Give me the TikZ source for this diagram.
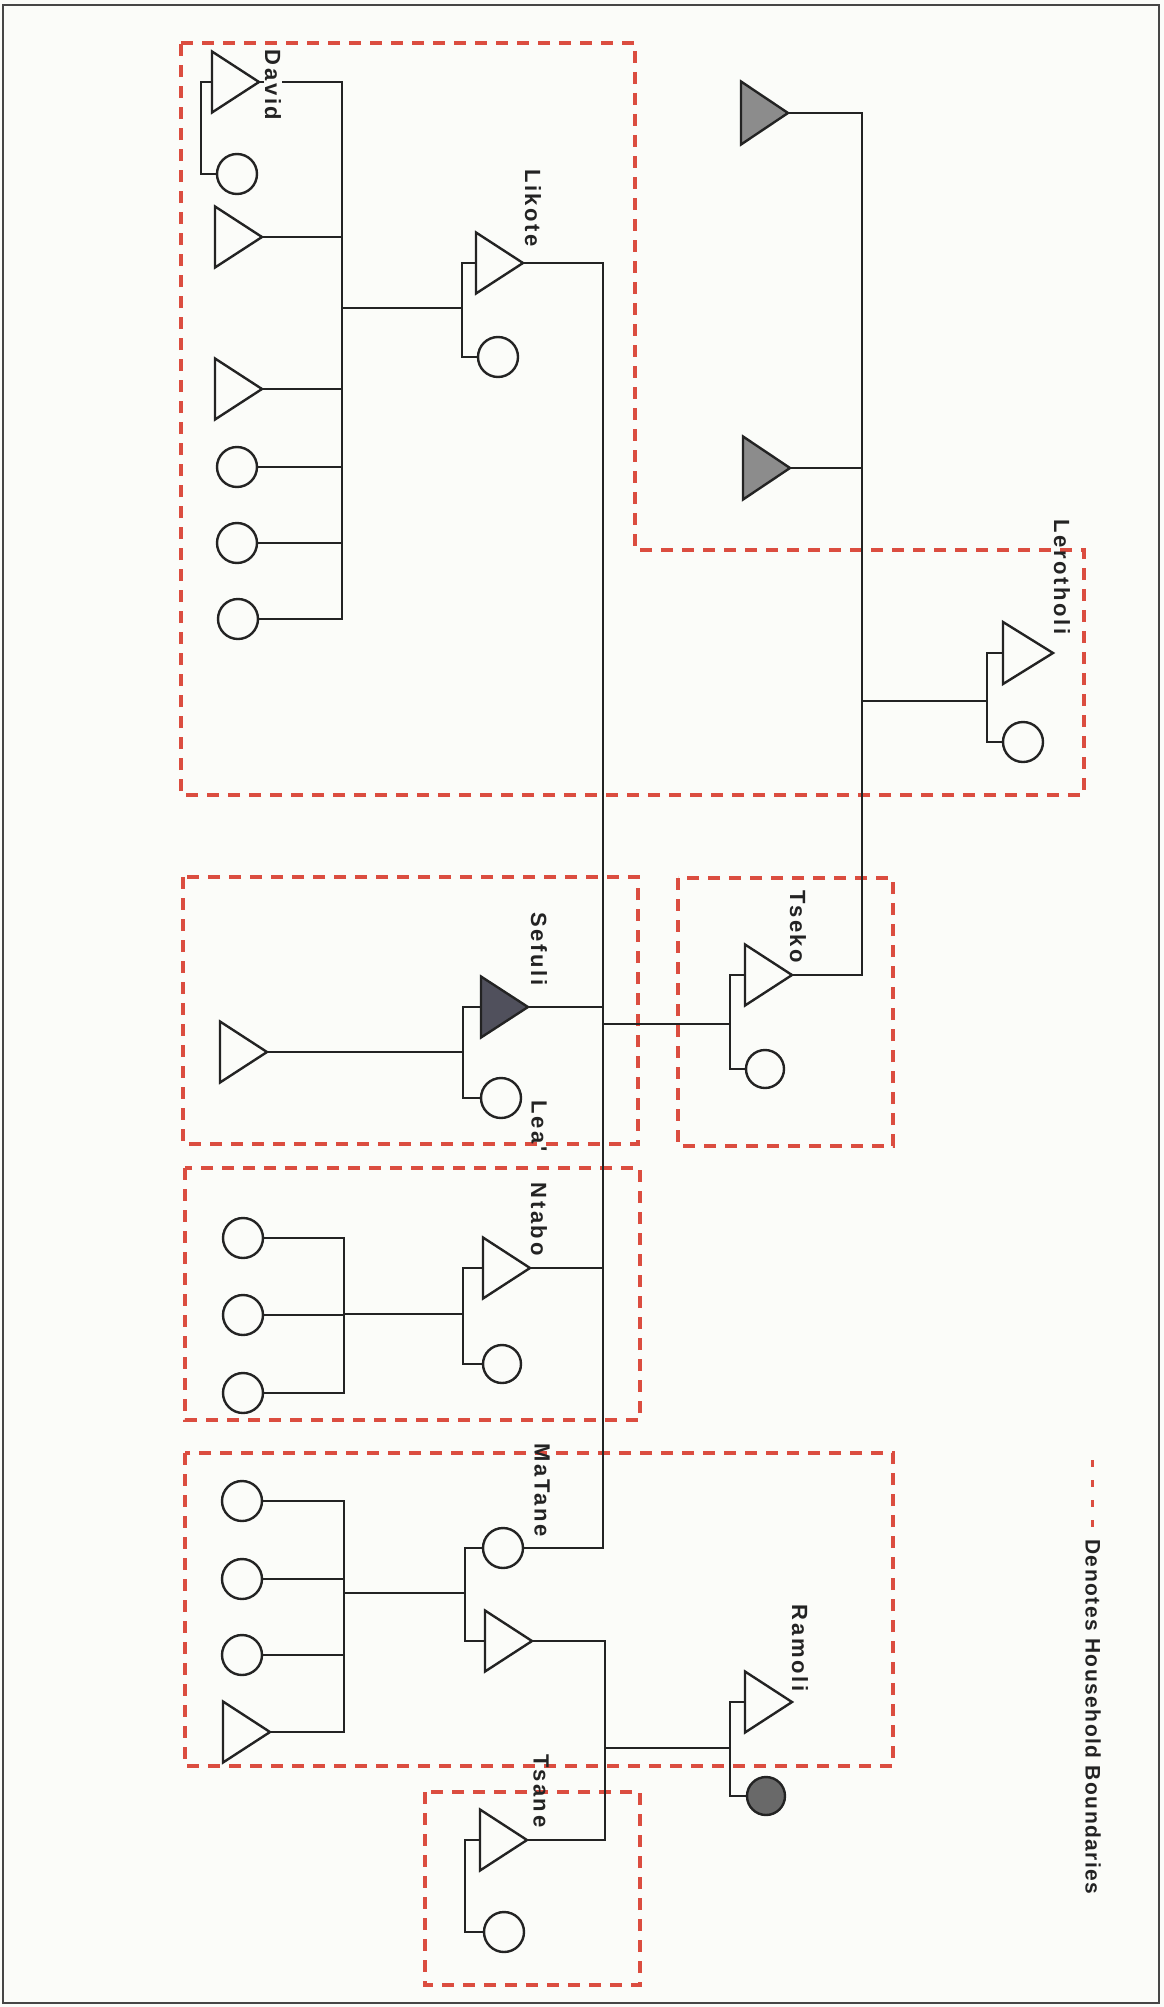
\documentclass[tikz,border=0pt]{standalone}
\usepackage{fontspec}
\usetikzlibrary{shapes.geometric}
\newfontfamily\lblfont[LetterSpace=12]{Liberation Sans}
\newfontfamily\legfont[LetterSpace=7]{Liberation Sans}
\definecolor{boxred}{RGB}{219,77,64}
\definecolor{linec}{RGB}{35,35,35}
\definecolor{framec}{RGB}{70,70,70}
\definecolor{txtc}{RGB}{35,35,35}
\definecolor{bgc}{RGB}{251,252,249}
\definecolor{shadeA}{RGB}{140,140,140}
\definecolor{shadeB}{RGB}{80,80,92}
\definecolor{shadeC}{RGB}{105,105,105}
\begin{document}
\begin{tikzpicture}[x=1pt,y=-1pt,
  kin/.style={line width=2.4pt, draw=linec},
  male/.style={isosceles triangle, isosceles triangle stretches, shape border rotate=0,
    minimum width=61, minimum height=47, inner sep=0pt, outer sep=0pt, draw=linec, line width=2.4pt},
  female/.style={circle, minimum size=40, inner sep=0pt, outer sep=0pt, draw=linec, line width=2.4pt},
  hbox/.style={draw=boxred, line width=3.2pt, dash pattern=on 12pt off 9pt},
  lbl/.style={rotate=-90, font=\lblfont\bfseries\fontsize{22}{22}\selectfont, text=txtc, inner sep=1pt}
]
\fill[bgc] (0,0) rectangle (1164,2007);
\useasboundingbox (0,0) rectangle (1164,2007);
\draw[framec, line width=2.4pt] (3,5) rectangle (1159,2003);

% household boundaries
\draw[hbox] (181,43) -- (635,43) -- (635,550) -- (1084,550) -- (1084,795) -- (181,795) -- cycle;
\draw[hbox] (183,877) rectangle (638,1144);
\draw[hbox] (678,878) rectangle (893,1146);
\draw[hbox] (185,1168) rectangle (640,1420);
\draw[hbox] (185,1453) rectangle (893,1766);
\draw[hbox] (425,1792) rectangle (640,1985);

% people
\node[male, anchor=apex] (dav) at (259,82) {};
\node[female] (dw) at (237,174) {};
\node[male, anchor=apex] (d2) at (262,237) {};
\node[male, anchor=apex] (d3) at (262,389) {};
\node[female] (lc1) at (237,467) {};
\node[female] (lc2) at (237,543) {};
\node[female] (lc3) at (238,619) {};
\node[male, anchor=apex] (lik) at (523,263) {};
\node[female] (lw) at (498,357) {};

\node[male, anchor=apex, fill=shadeA, minimum width=63] (s1) at (788,113) {};
\node[male, anchor=apex, fill=shadeA, minimum width=63] (s2) at (790,468) {};
\node[male, anchor=apex, minimum height=50, minimum width=62] (ler) at (1053,653) {};
\node[female] (lrw) at (1023,742) {};

\node[male, anchor=apex] (tse) at (792,975) {};
\node[female, minimum size=38] (tw) at (765,1069) {};

\node[male, anchor=apex, fill=shadeB] (sef) at (528,1007) {};
\node[female] (lea) at (501,1098) {};
\node[male, anchor=apex] (sc) at (267,1052) {};

\node[male, anchor=apex] (nta) at (530,1268) {};
\node[female, minimum size=38] (nw) at (502,1364) {};
\node[female] (nc1) at (243,1238) {};
\node[female] (nc2) at (243,1315) {};
\node[female] (nc3) at (243,1393) {};

\node[female] (mat) at (503,1548) {};
\node[male, anchor=apex] (mh) at (532,1641) {};
\node[female] (mc1) at (242,1501) {};
\node[female] (mc2) at (242,1579) {};
\node[female] (mc3) at (242,1655) {};
\node[male, anchor=apex] (mc4) at (270,1732) {};

\node[male, anchor=apex] (ram) at (792,1702) {};
\node[female, fill=shadeC, minimum size=38] (rw) at (766,1796) {};

\node[male, anchor=apex] (tsa) at (527,1840) {};
\node[female] (taw) at (504,1932) {};

% junction coordinates
\coordinate (davM) at (201,128);
\coordinate (likM) at (462,308);
\coordinate (likBar) at (342,308);
\coordinate (tsBar) at (603,1024);
\coordinate (tseM) at (730,1024);
\coordinate (lerM) at (987,701);
\coordinate (lerBar) at (862,701);
\coordinate (sefM) at (463,1052);
\coordinate (ntM) at (463,1314);
\coordinate (ntBar) at (344,1314);
\coordinate (matM) at (465,1593);
\coordinate (matBar) at (344,1593);
\coordinate (ramM) at (730,1748);
\coordinate (mhBar) at (605,1748);
\coordinate (tsaM) at (465,1886);

% connectors
\draw[kin] (dav.lower side) -| (davM) |- (dw.west);

\draw[kin] (lik.lower side) -| (likM) |- (lw.west);
\draw[kin] (likM) -- (likBar);
\draw[kin] (dav.apex) -| (likBar);
\draw[kin] (lc3.east) -| (likBar);
\draw[kin] (d2.apex) -- (d2.apex -| likBar);
\draw[kin] (d3.apex) -- (d3.apex -| likBar);
\draw[kin] (lc1.east) -- (lc1.east -| likBar);
\draw[kin] (lc2.east) -- (lc2.east -| likBar);

\draw[kin] (lik.apex) -| (tsBar);
\draw[kin] (mat.east) -| (tsBar);
\draw[kin] (sef.apex) -- (sef.apex -| tsBar);
\draw[kin] (nta.apex) -- (nta.apex -| tsBar);

\draw[kin] (tse.lower side) -| (tseM) |- (tw.west);
\draw[kin] (tsBar) -- (tseM);

\draw[kin] (ler.lower side) -| (lerM) |- (lrw.west);
\draw[kin] (lerM) -- (lerBar);
\draw[kin] (s1.apex) -| (lerBar);
\draw[kin] (tse.apex) -| (lerBar);
\draw[kin] (s2.apex) -- (s2.apex -| lerBar);

\draw[kin] (sef.lower side) -| (sefM) |- (lea.west);
\draw[kin] (sc.apex) -- (sefM);

\draw[kin] (nta.lower side) -| (ntM) |- (nw.west);
\draw[kin] (ntM) -- (ntBar);
\draw[kin] (nc1.east) -| (ntBar);
\draw[kin] (nc3.east) -| (ntBar);
\draw[kin] (nc2.east) -- (nc2.east -| ntBar);

\draw[kin] (mat.west) -| (matM) |- (mh.lower side);
\draw[kin] (matM) -- (matBar);
\draw[kin] (mc1.east) -| (matBar);
\draw[kin] (mc4.apex) -| (matBar);
\draw[kin] (mc2.east) -- (mc2.east -| matBar);
\draw[kin] (mc3.east) -- (mc3.east -| matBar);

\draw[kin] (ram.lower side) -| (ramM) |- (rw.west);
\draw[kin] (ramM) -- (mhBar);
\draw[kin] (mh.apex) -| (mhBar);
\draw[kin] (tsa.apex) -| (mhBar);

\draw[kin] (tsa.lower side) -| (tsaM) |- (taw.west);

% names
\node[lbl, fill=bgc] (tDavid) at (273,85) {David};
\node[lbl] (tLikote) at (533,208) {Likote};
\node[lbl] (tLer) at (1062,577) {Lerotholi};
\node[lbl] (tTseko) at (798,927) {Tseko};
\node[lbl] (tSefuli) at (539,949) {Sefuli};
\node[lbl] (tLea) at (539,1126) {Lea'};
\node[lbl] (tNtabo) at (539,1219) {Ntabo};
\node[lbl] (tMaTane) at (542,1490) {MaTane};
\node[lbl] (tTsane) at (541,1791) {Tsane};
\node[lbl] (tRamoli) at (800,1648) {Ramoli};

% legend
\coordinate (legA) at (1092,1460);
\coordinate (legB) at (1092,1527);
\draw[boxred, line width=3pt, dash pattern=on 7pt off 13pt] (legA) -- (legB);
\node[lbl, font=\legfont\bfseries\fontsize{21}{21}\selectfont] (tLegend) at (1093,1717) {Denotes Household Boundaries};
\end{tikzpicture}
\end{document}
